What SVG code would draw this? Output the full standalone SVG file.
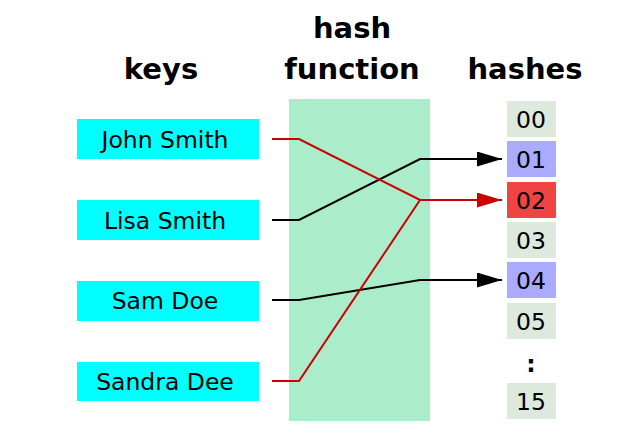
<svg xmlns="http://www.w3.org/2000/svg" width="618" height="442" viewBox="0 0 618 442">
<style>
.h{font-family:"DejaVu Sans",sans-serif;font-weight:bold;font-size:29px;fill:#000;text-anchor:middle}
.t{font-family:"DejaVu Sans",sans-serif;font-size:23.5px;fill:#000;text-anchor:middle}
.key{fill:#00ffff}
.hb{fill:#dde9dd}
.hu{fill:#aaaaff}
.hr{fill:#ee4444}
.ln{fill:none;stroke-width:2}
</style>
<defs>
<marker id="ab" viewBox="0 0 25 15" refX="25" refY="7.5" markerWidth="25" markerHeight="15" markerUnits="userSpaceOnUse" orient="auto"><path d="M0,0 L25,7.5 L0,15 Z" fill="#000"/></marker>
<marker id="ar" viewBox="0 0 25 15" refX="25" refY="7.5" markerWidth="25" markerHeight="15" markerUnits="userSpaceOnUse" orient="auto"><path d="M0,0 L25,7.5 L0,15 Z" fill="#cc0000"/></marker>
</defs>
<rect width="618" height="442" fill="#fff"/>
<text class="h" x="161" y="79">keys</text>
<text class="h" x="352" y="38">hash</text>
<text class="h" x="352" y="79">function</text>
<text class="h" x="525" y="79">hashes</text>
<rect id="hashfunction" x="289" y="99" width="141" height="322" fill="#abedcb"/>
<g id="key-john"><rect class="key" x="77" y="119" width="182" height="40"/><text class="t" x="165" y="148">John Smith</text></g>
<g id="key-lisa"><rect class="key" x="77" y="200" width="182" height="40"/><text class="t" x="165" y="229">Lisa Smith</text></g>
<g id="key-sam"><rect class="key" x="77" y="281" width="182" height="40"/><text class="t" x="165" y="309">Sam Doe</text></g>
<g id="key-sandra"><rect class="key" x="77" y="362" width="182" height="39"/><text class="t" x="165" y="390">Sandra Dee</text></g>
<g id="h00"><rect class="hb" x="507" y="101" width="49" height="36"/><text class="t" x="531" y="128">00</text></g>
<g id="h01"><rect class="hu" x="507" y="141" width="49" height="36"/><text class="t" x="531" y="168">01</text></g>
<g id="h02"><rect class="hr" x="507" y="182" width="49" height="36"/><text class="t" x="531" y="209">02</text></g>
<g id="h03"><rect class="hb" x="507" y="222" width="49" height="36"/><text class="t" x="531" y="249">03</text></g>
<g id="h04"><rect class="hu" x="507" y="262" width="49" height="36"/><text class="t" x="531" y="289">04</text></g>
<g id="h05"><rect class="hb" x="507" y="303" width="49" height="36"/><text class="t" x="531" y="330">05</text></g>
<g id="hdots"><text class="t" x="531" y="372" style="font-weight:bold">:</text></g>
<g id="h15"><rect class="hb" x="507" y="383" width="49" height="36"/><text class="t" x="531" y="410">15</text></g>
<g id="connectors">
<polyline class="ln" stroke="#000" points="272,220 299,220 420,159 502,159" marker-end="url(#ab)"/>
<polyline class="ln" stroke="#000" points="272,300 299,300 420,280 502,280" marker-end="url(#ab)"/>
<polyline class="ln" stroke="#cc0000" points="272,139 299,139 420,200 502,200" marker-end="url(#ar)"/>
<polyline class="ln" stroke="#cc0000" points="272,381 299,381 420,200"/>
</g>
</svg>
